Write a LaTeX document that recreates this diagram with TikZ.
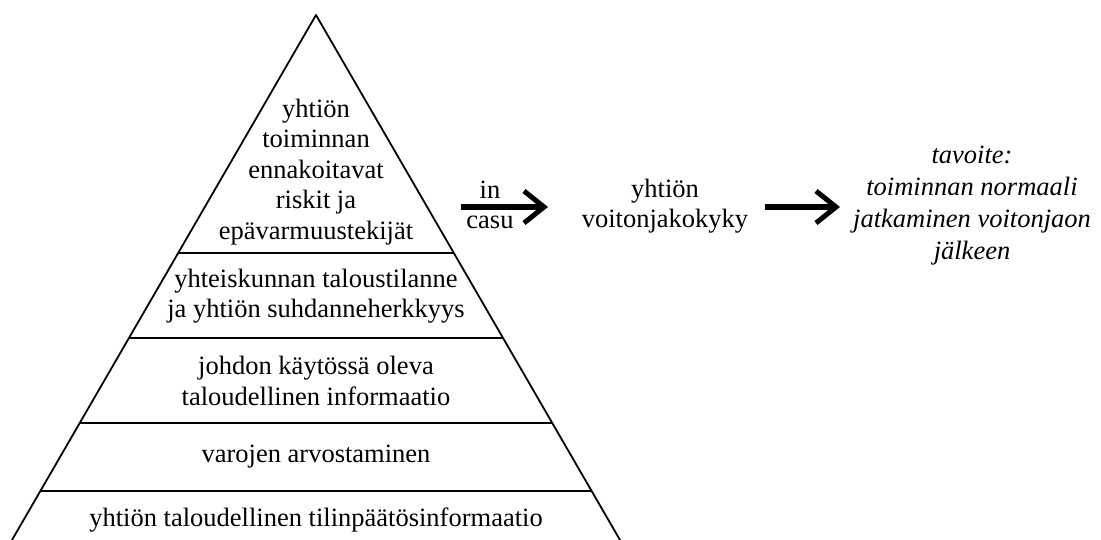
\documentclass[tikz,border=0pt]{standalone}
\usepackage{fontspec}
\setmainfont{Liberation Serif}
\usetikzlibrary{arrows.meta,calc}
\begin{document}
\begin{tikzpicture}[x=1pt,y=-1pt,
  txt/.style={align=center,inner sep=0pt,font=\fontsize{26.5}{30.5}\selectfont},
  itxt/.style={txt,font=\fontsize{26.5}{32}\selectfont\itshape},
  edge/.style={line width=1.8pt,line join=round},
  sep/.style={line width=1.8pt},
  bigarrow/.style={line width=5.5pt,-{Straight Barb[length=20pt,width=32pt,line width=5pt]}}]
\useasboundingbox (0,0) rectangle (1101,540);
\coordinate (apex) at (316,15);
\coordinate (bl) at (12,540);
\coordinate (br) at (620,540);
\draw[edge] (bl) -- (apex) -- (br);
\foreach \t in {0.4533,0.6152,0.7771,0.9067}
  \draw[sep] ($(apex)!\t!(bl)$) -- ($(apex)!\t!(br)$);
\node[txt] (l1) at (316,172) {yhtiön\\toiminnan\\ennakoitavat\\riskit ja\\epävarmuustekijät};
\node[txt] (l2) at (316,296) {yhteiskunnan taloustilanne\\ja yhtiön suhdanneherkkyys};
\node[txt] (l3) at (316,381) {johdon käytössä oleva\\taloudellinen informaatio};
\node[txt] (l4) at (316,457) {varojen arvostaminen};
\node[txt] (l5) at (316,520) {yhtiön taloudellinen tilinpäätösinformaatio};
\node[txt] (in) at (490,190) {in};
\node[txt] (casu) at (490,222) {casu};
\node[txt] (mid) at (665,206) {yhtiön\\voitonjakokyky};
\node[itxt] (goal) at (972,206) {tavoite:\\toiminnan normaali\\jatkaminen voitonjaon\\jälkeen};
\coordinate (a1s) at (461,207);
\coordinate (a1e) at (548,207);
\coordinate (a2s) at (765,207);
\coordinate (a2e) at (840,207);
\draw[bigarrow] (a1s) -- (a1e);
\draw[bigarrow] (a2s) -- (a2e);
\end{tikzpicture}
\end{document}
